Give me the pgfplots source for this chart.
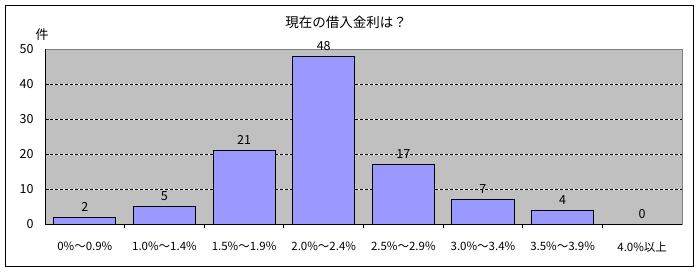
\documentclass[border=0pt]{standalone}
\usepackage{pgfplots}
\pgfplotsset{compat=1.18}
\usepackage{fontspec}
\setmainfont{Noto Sans CJK JP}
\definecolor{barfill}{HTML}{9999FF}
\definecolor{plotbg}{HTML}{C0C0C0}
\definecolor{plotborder}{HTML}{808080}
\begin{document}
\begin{tikzpicture}[x=1bp,y=1bp]
\useasboundingbox (0,0) rectangle (698,272);
\draw[black, line width=1bp] (5.5,6) rectangle (693,266.5);
\node[inner sep=0pt] at (346,250) {\fontsize{13.5bp}{16bp}\selectfont 現在の借入金利は？};
\node[inner sep=0pt] at (42,237) {\fontsize{13bp}{15bp}\selectfont 件};
\begin{axis}[
  at={(45bp,48bp)}, anchor=south west,
  scale only axis, width=637bp, height=175bp,
  xmin=-0.5, xmax=7.5, ymin=0, ymax=50,
  ytick={0,10,...,50},
  xtick={0,...,7},
  xticklabels={0\%～0.9\%,1.0\%～1.4\%,1.5\%～1.9\%,2.0\%～2.4\%,2.5\%～2.9\%,3.0\%～3.4\%,3.5\%～3.9\%,4.0\%以上},
  minor xtick={0.5,1.5,...,6.5},
  major x tick style={draw=none},
  xtick pos=left, ytick pos=left,
  tick align=inside,
  major tick length=4bp, minor tick length=4bp,
  tick style={black, line width=0.8bp},
  axis background/.style={fill=plotbg},
  axis line style={draw=plotborder, line width=0.8bp},
  ymajorgrids,
  major y grid style={draw=black, line width=0.8bp, dash pattern=on 3bp off 2bp, preaction={draw=white, solid, line width=0.8bp}},
  /pgf/number format/assume math mode=true,
  yticklabel style={font=\fontsize{12.5bp}{14bp}\selectfont, xshift=-8bp},
  xticklabel style={font=\fontsize{11.5bp}{13bp}\selectfont, yshift=-10bp},
  ybar, bar width=0.78,
  nodes near coords,
  nodes near coords style={font=\fontsize{12.5bp}{14bp}\selectfont, black, yshift=2bp},
]
\addplot[fill=barfill, draw=black, line width=0.8bp] coordinates {(0,2) (1,5) (2,21) (3,48) (4,17) (5,7) (6,4) (7,0)};
\draw[black, line width=0.8bp] (rel axis cs:0,1) -- (rel axis cs:0,0) -- (rel axis cs:1,0);
\end{axis}
\end{tikzpicture}
\end{document}
